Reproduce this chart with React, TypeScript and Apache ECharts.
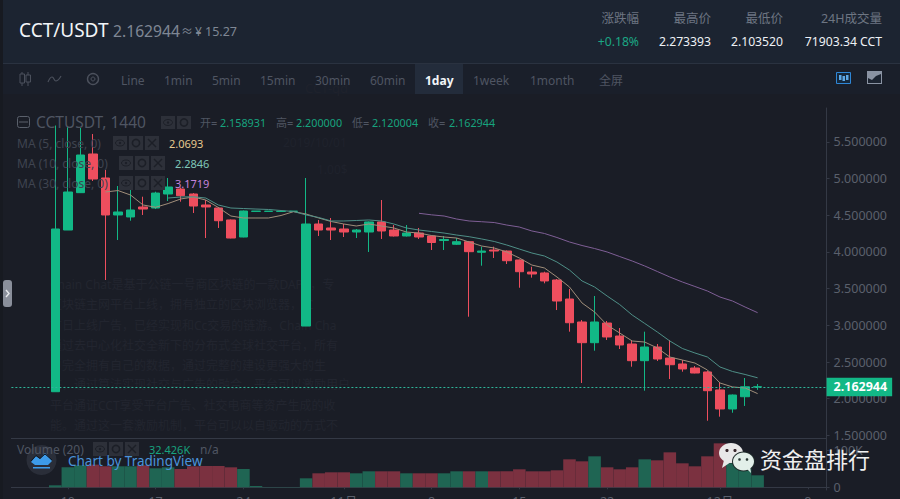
import React, { useEffect, useRef } from "react";
import * as echarts from "echarts";

// [open, close, low, high]
const candles: number[][] = [
  [2.095, 4.312, 2.095, 5.722], [4.298, 4.816, 4.298, 5.715], [4.807, 5.32, 4.802, 5.688], [5.334, 4.993, 4.966, 5.606],
  [5.007, 4.503, 3.617, 5.116], [4.503, 4.544, 4.162, 4.898], [4.476, 4.571, 4.425, 4.898], [4.612, 4.584, 4.503, 4.752],
  [4.598, 4.802, 4.584, 4.82], [4.789, 4.884, 4.693, 5.007], [4.857, 4.766, 4.684, 4.877], [4.789, 4.625, 4.53, 4.802],
  [4.639, 4.612, 4.189, 4.707], [4.598, 4.425, 4.326, 4.612], [4.435, 4.189, 4.185, 4.441], [4.203, 4.557, 4.199, 4.564],
  [4.552, 4.556, 4.552, 4.556], [4.552, 4.555, 4.552, 4.555], [4.551, 4.554, 4.551, 4.554], [4.552, 4.555, 4.552, 4.555],
  [2.99, 4.38, 2.99, 5.007], [4.38, 4.298, 4.217, 4.435], [4.326, 4.298, 4.162, 4.462], [4.312, 4.271, 4.203, 4.38],
  [4.271, 4.298, 4.189, 4.312], [4.271, 4.408, 3.999, 4.414], [4.408, 4.285, 4.176, 4.707], [4.298, 4.217, 4.21, 4.366],
  [4.217, 4.257, 4.21, 4.366], [4.257, 4.203, 4.176, 4.326], [4.217, 4.128, 4.026, 4.223], [4.155, 4.169, 4.026, 4.217],
  [4.104, 4.139, 4.094, 4.189], [4.139, 4.003, 3.117, 4.149], [3.995, 4.012, 3.812, 4.071], [4.026, 4.012, 3.917, 4.071],
  [4.012, 3.88, 3.835, 4.019], [3.89, 3.73, 3.512, 3.896], [3.726, 3.699, 3.649, 3.798], [3.713, 3.604, 3.572, 3.73],
  [3.617, 3.331, 3.208, 3.631], [3.358, 3.035, 2.913, 3.495], [3.045, 2.763, 2.214, 3.072], [2.763, 3.045, 2.654, 3.399],
  [3.031, 2.841, 2.8, 3.059], [2.854, 2.732, 2.677, 2.963], [2.745, 2.518, 2.436, 2.8], [2.518, 2.704, 2.109, 2.913],
  [2.704, 2.541, 2.514, 2.745], [2.554, 2.463, 2.268, 2.8], [2.473, 2.405, 2.368, 2.527], [2.418, 2.35, 2.346, 2.445],
  [2.364, 2.109, 1.7, 2.377], [2.119, 1.86, 1.755, 2.228], [1.86, 2.05, 1.809, 2.057], [2.027, 2.163, 1.901, 2.282],
  [2.158931, 2.162944, 2.120004, 2.2],
];

const ma5 = [4.816, 4.836, 4.775, 4.639, 4.608, 4.659, 4.721, 4.748, 4.707, 4.605, 4.489, 4.462, 4.462, 4.462, 4.496, 4.548, 4.516, 4.462, 4.414, 4.38, 4.353, 4.38, 4.353, 4.326, 4.271, 4.257, 4.223, 4.203, 4.189, 4.135, 4.08, 4.053, 3.999, 3.917, 3.821, 3.781, 3.658, 3.522, 3.304, 3.181, 3.004, 2.895, 2.786, 2.772, 2.691, 2.568, 2.527, 2.486, 2.391, 2.214, 2.16, 2.146, 2.0693];
const ma10 = [4.734, 4.748, 4.752, 4.734, 4.639, 4.598, 4.591, 4.584, 4.578, 4.564, 4.55, 4.503, 4.469, 4.421, 4.421, 4.428, 4.435, 4.421, 4.38, 4.326, 4.298, 4.278, 4.257, 4.23, 4.207, 4.176, 4.142, 4.094, 4.039, 3.985, 3.944, 3.862, 3.753, 3.604, 3.522, 3.399, 3.283, 3.14, 3.025, 2.909, 2.786, 2.684, 2.623, 2.568, 2.432, 2.371, 2.33, 2.2846];
const ma30 = [4.526, 4.505, 4.489, 4.448, 4.421, 4.411, 4.4, 4.366, 4.339, 4.285, 4.251, 4.196, 4.135, 4.087, 4.046, 3.999, 3.937, 3.876, 3.808, 3.733, 3.658, 3.59, 3.529, 3.467, 3.385, 3.331, 3.249, 3.1719];

// thousands
const volumes = [5.4, 54, 59.4, 61.3, 56.7, 56.7, 56.7, 59.4, 51.3, 54, 49.4, 56.7, 57.5, 57.5, 54, 49.4, 3.5, 0.8, 0.8, 0.8, 24.3, 37.8, 40.5, 40.5, 37.8, 43.2, 43.2, 43.2, 37.8, 37.8, 37.8, 37.8, 43.2, 43.2, 43.2, 43.2, 43.2, 48.6, 43.2, 43.2, 45.9, 75.6, 70.2, 83.7, 54, 48.6, 54, 75.6, 72.9, 94.5, 64.8, 56.7, 83.7, 118.8, 64.8, 64.8, 32.426];

const tickIndex = [1, 8, 15, 23, 30, 37, 44, 53, 60];
const tickText = ["10", "17", "24", "11月", "8", "15", "22", "12月", "8"];
const priceTicks = [1.5, 2, 2.5, 3, 3.5, 4, 4.5, 5, 5.5];
const volumeTicks = [0, 100];
const lastPrice = 2.162944;

const timeframes: [string, number][] = [["Line", 121], ["1min", 164], ["5min", 212], ["15min", 260], ["30min", 315], ["60min", 370], ["1week", 473], ["1month", 530], ["全屏", 599]];
const stats: [string, string, number, string][] = [
  ["涨跌幅", "+0.18%", 639, "#1ba784"],
  ["最高价", "2.273393", 711, "#eef1f5"],
  ["最低价", "2.103520", 783, "#eef1f5"],
  ["24H成交量", "71903.34 CCT", 882, "#eef1f5"],
];
const watermark = [
  "Chain Chat是基于公链一号商区块链的一款DAPP，专",
  "区块链主网平台上线，拥有独立的区块浏览器，IC",
  "首日上线广告，已经实现和Cc交易的链游。Chain Cha",
  "通过去中心化社交全新下的分布式全球社交平台，所有",
  "户完全拥有自己的数据，通过完整的建设更强大的生",
  "态，通过算法实现社交与广告的融合，平台可以激励用户",
  "平台通证CCT享受平台广告、社交电商等资产生成的收",
  "能。通过这一套激励机制，平台可以以自驱动的方式不",
];
const watermarkY = [284, 304, 325, 345, 365, 384, 405, 425];

const FONT = '"Noto Sans","Noto Sans CJK SC",sans-serif';
const UP = "#12b886";
const DOWN = "#ee4e5e";
const LEAD = 3;
const TRAIL = 5;
const total = LEAD + candles.length + TRAIL;

const categories = Array.from({ length: total }, (_, i) => String(i));
const labelOf = (i: number) => {
  const k = tickIndex.indexOf(i - LEAD);
  return k >= 0 ? tickText[k] : "";
};
const padBoth = <T,>(arr: T[]): (T | string)[] => {
  const front = total - TRAIL - arr.length;
  return [...Array(front).fill("-"), ...arr, ...Array(TRAIL).fill("-")];
};

const txt = (text: string, x: number, y: number, fill: string, fontSize = 12, extra: any = {}) => ({
  type: "text", x, y, z: 100, silent: true,
  style: { text, fill, fontSize, fontFamily: FONT, textVerticalAlign: "middle", verticalAlign: "middle", align: "left", ...(extra.style || {}) },
  ...(extra.el || {}),
});
const rect = (x: number, y: number, width: number, height: number, fill: string, z = 100, r = 0) => ({
  type: "rect", z, silent: true, shape: { x, y, width, height, r }, style: { fill },
});
const seg = (x1: number, y1: number, x2: number, y2: number, stroke: string, lineWidth = 1) => ({
  type: "line", z: 101, silent: true, shape: { x1, y1, x2, y2 }, style: { stroke, lineWidth },
});

function controlBoxes(x: number, y: number, n: number, h = 14) {
  const out: any[] = [];
  for (let i = 0; i < n; i++) {
    const bx = x + i * 16;
    out.push(rect(bx, y, 14, h, "#2d3039", 90));
    const cx = bx + 7, cy = y + h / 2;
    if (i === 0) {
      out.push({ type: "ellipse", z: 101, silent: true, shape: { cx, cy, rx: 4.5, ry: 3 }, style: { fill: "none", stroke: "#1c1f27", lineWidth: 1 } });
      out.push({ type: "circle", z: 101, silent: true, shape: { cx, cy, r: 1.2 }, style: { fill: "#1c1f27" } });
    } else if (i === 1) {
      out.push({ type: "circle", z: 101, silent: true, shape: { cx, cy, r: 3.6 }, style: { fill: "none", stroke: "#1c1f27", lineWidth: 1.6 } });
    } else {
      out.push(seg(cx - 4, cy - 4, cx + 4, cy + 4, "#1c1f27", 1.4));
      out.push(seg(cx - 4, cy + 4, cx + 4, cy - 4, "#1c1f27", 1.4));
    }
  }
  return out;
}

function buildGraphics(): any[] {
  const g: any[] = [];
  // background bands
  g.push(rect(0, 0, 900, 63, "#1c2431", 0));
  g.push(rect(0, 63, 900, 1, "#2a3240", 0));
  g.push(rect(0, 64, 900, 30, "#1a1f2a", 0));
  g.push(rect(0, 0, 3, 499, "#171a21", 0));
  g.push(rect(415, 64, 48, 30, "#232c3b", 0));
  // watermark
  watermark.forEach((line, i) => {
    g.push({ type: "text", x: 50, y: watermarkY[i], z: 0, silent: true, style: { text: line, fill: "#22252f", fontSize: 12, fontFamily: FONT, verticalAlign: "middle" } });
  });
  const faint = "#1f222c";
  g.push({ type: "text", x: 305, y: 88, z: 0, silent: true, style: { text: "CCT-qd", fill: faint, fontSize: 13, fontFamily: FONT, verticalAlign: "middle" } });
  g.push({ type: "text", x: 283, y: 142, z: 0, silent: true, style: { text: "2019/10/01", fill: faint, fontSize: 12, fontFamily: FONT, verticalAlign: "middle" } });
  g.push({ type: "text", x: 317, y: 169, z: 0, silent: true, style: { text: "1.00$", fill: faint, fontSize: 12, fontFamily: FONT, verticalAlign: "middle" } });

  // header
  g.push(txt("CCT/USDT", 19, 30, "#f2f5f8", 19));
  g.push(txt("2.162944", 113, 31, "#7f8794", 15.7));
  g.push(txt("≈", 181, 31, "#7f8794", 12));
  g.push(txt("¥", 195, 31, "#7f8794", 12));
  g.push(txt("15.27", 205, 31, "#7f8794", 12.5));
  stats.forEach(([label, value, x, color]) => {
    g.push(txt(label, x, 18.5, "#6d7582", 12.5, { style: { align: "right" } }));
    g.push(txt(value, x, 41, color, 12.2, { style: { align: "right" } }));
  });

  // toolbar
  timeframes.forEach(([t, x]) => g.push(txt(t, x, 80, "#4f5562", 12)));
  g.push(txt("1day", 425, 80, "#f2f5f8", 12, { style: { fontWeight: "bold" } }));
  // toolbar left icons
  g.push(seg(22, 72, 22, 86, "#4b505c"));
  g.push({ type: "rect", z: 101, silent: true, shape: { x: 20, y: 74, width: 4.5, height: 9 }, style: { fill: "#1a1f2a", stroke: "#4b505c" } });
  g.push(seg(28, 72, 28, 86, "#4b505c"));
  g.push({ type: "rect", z: 101, silent: true, shape: { x: 26, y: 75, width: 4.5, height: 7 }, style: { fill: "#1a1f2a", stroke: "#4b505c" } });
  g.push({ type: "polyline", z: 101, silent: true, shape: { points: [[48, 82], [52, 77], [56, 81], [61, 76]], smooth: 0.5 }, style: { fill: "none", stroke: "#4b505c", lineWidth: 1.2 } });
  g.push({ type: "circle", z: 101, silent: true, shape: { cx: 93, cy: 79, r: 5.5 }, style: { fill: "none", stroke: "#4b505c", lineWidth: 1.4 } });
  g.push({ type: "circle", z: 101, silent: true, shape: { cx: 93, cy: 79, r: 2 }, style: { fill: "none", stroke: "#4b505c" } });
  // toolbar right icons
  g.push({ type: "rect", z: 101, silent: true, shape: { x: 836.5, y: 72.5, width: 14, height: 11 }, style: { fill: "#15283c", stroke: "#2e86d6" } });
  [840, 843.5, 847].forEach((x, i) => g.push(rect(x - 1, 75 + (i % 2), 2.5, 5, "#5ea8e6", 102)));
  g.push(rect(867, 71, 15, 13, "#8a93a3", 101));
  g.push({ type: "polygon", z: 102, silent: true, shape: { points: [[868, 83], [868, 78], [872, 80], [876, 76], [881, 74], [881, 83]] }, style: { fill: "#1c2431" } });

  // study legend
  g.push({ type: "rect", z: 101, silent: true, shape: { x: 17.5, y: 116.5, width: 12, height: 11, r: 2 }, style: { fill: "none", stroke: "#5a606b" } });
  g.push(seg(19, 122, 28, 122, "#5a606b"));
  g.push(txt("CCTUSDT, 1440", 36, 122, "#4f5562", 15.5));
  g.push(...controlBoxes(161, 116, 2, 13));
  const ohlc: [string, string, number, number][] = [["开=", "2.158931", 200, 220], ["高=", "2.200000", 276, 296], ["低=", "2.120004", 352, 372], ["收=", "2.162944", 428, 449]];
  ohlc.forEach(([a, b, x1, x2]) => {
    g.push(txt(a, x1, 122.5, "#4f5562", 11));
    g.push(txt(b, x2, 122.5, "#17a37e", 10.8));
  });
  const rows: [string, string, string, number, number, number][] = [
    ["MA (5, close, 0)", "2.0693", "#e6c98f", 143, 113, 169],
    ["MA (10, close, 0)", "2.2846", "#7fc6b8", 163, 119, 175],
    ["MA (30, close, 0)", "3.1719", "#c483dc", 183, 119, 175],
  ];
  rows.forEach(([t, v, c, y, bx, vx]) => {
    g.push(txt(t, 17, y, "#3f4450", 12));
    g.push(...controlBoxes(bx, y - 7, 3));
    g.push(txt(v, vx, y, c, 11));
  });

  // volume legend
  g.push(txt("Volume (20)", 17, 449, "#4f5562", 12));
  g.push(...controlBoxes(93, 442, 3));
  g.push(txt("32.426K", 149, 449, "#17a37e", 11));
  g.push(txt("n/a", 200, 449, "#4f5562", 12));

  // TradingView badge
  g.push({ type: "circle", z: 95, silent: true, shape: { cx: 41.5, cy: 460, r: 15 }, style: { fill: "#2c313c", opacity: 0.9 } });
  g.push({ type: "polygon", z: 101, silent: true, shape: { points: [[31, 462], [36, 456], [40, 459], [45, 453], [52, 461], [48, 465], [35, 465]] }, style: { fill: "#3d9be9" } });
  g.push({ type: "polyline", z: 102, silent: true, shape: { points: [[31, 461], [36, 455.5], [40, 458.5], [45, 454], [52, 460]] }, style: { fill: "none", stroke: "#0f1620", lineWidth: 1 } });
  g.push(rect(33, 467, 17, 1.5, "#3d9be9", 101));
  g.push(txt("Chart by TradingView", 68, 460.5, "#4a93da", 13.5));

  // side handle
  g.push(rect(3, 280, 9, 27, "#8a8f9b", 100, 3));
  g.push({ type: "polyline", z: 101, silent: true, shape: { points: [[6, 290], [9, 293.5], [6, 297]] }, style: { fill: "none", stroke: "#e8eaee", lineWidth: 1.4 } });

  // WeChat mark
  g.push({ type: "polygon", z: 110, silent: true, shape: { points: [[724, 460], [722, 468], [731, 462]] }, style: { fill: "#e8e8e8" } });
  g.push({ type: "ellipse", z: 110, silent: true, shape: { cx: 731, cy: 453, rx: 12, ry: 10 }, style: { fill: "#e8e8e8" } });
  g.push({ type: "circle", z: 111, silent: true, shape: { cx: 727, cy: 450.5, r: 1.6 }, style: { fill: "#3a2a2e" } });
  g.push({ type: "circle", z: 111, silent: true, shape: { cx: 735, cy: 450.5, r: 1.6 }, style: { fill: "#3a2a2e" } });
  g.push({ type: "ellipse", z: 112, silent: true, shape: { cx: 743.5, cy: 461.5, rx: 11.5, ry: 10 }, style: { fill: "#1f2b2a" } });
  g.push({ type: "ellipse", z: 113, silent: true, shape: { cx: 743.5, cy: 461.5, rx: 10.5, ry: 9 }, style: { fill: "#e2efe9" } });
  g.push({ type: "polygon", z: 113, silent: true, shape: { points: [[746, 468], [751, 473], [750, 466]] }, style: { fill: "#e2efe9" } });
  g.push({ type: "circle", z: 114, silent: true, shape: { cx: 739.5, cy: 459.5, r: 1.3 }, style: { fill: "#2b3a36" } });
  g.push({ type: "circle", z: 114, silent: true, shape: { cx: 747, cy: 459.5, r: 1.3 }, style: { fill: "#2b3a36" } });
  g.push(txt("资金盘排行", 760, 458.5, "#f0f0f0", 22));
  return g;
}

export default function App() {
  const ref = useRef<HTMLDivElement>(null);
  useEffect(() => {
    document.body.style.margin = "0";
    document.body.style.overflow = "hidden";
    const chart = echarts.init(ref.current!, undefined, { renderer: "svg" });
    const axisLine = { show: true, lineStyle: { color: "#343945", width: 1 } };
    const labelStyle = { color: "#5a606c", fontSize: 12.5, fontFamily: FONT };
    chart.setOption({
      animation: false,
      backgroundColor: "#1a1d26",
      tooltip: { show: false },
      graphic: { elements: buildGraphics() },
      grid: [
        { left: 11.4, width: 815.2, top: 108, height: 330.3, outerBoundsMode: "none" },
        { left: 11.4, width: 815.2, top: 438.3, height: 51.7, outerBoundsMode: "none" },
      ],
      xAxis: [
        { type: "category", data: categories, gridIndex: 0, boundaryGap: true, axisLine, axisTick: { show: false }, axisLabel: { show: false }, splitLine: { show: false } },
        {
          type: "category", data: categories, gridIndex: 1, boundaryGap: true, axisLine,
          axisTick: { show: true, alignWithLabel: true, length: 2, interval: (i: number) => labelOf(i) !== "", lineStyle: { color: "#343945" } },
          axisLabel: { interval: (i: number) => labelOf(i) !== "", formatter: (v: string) => labelOf(Number(v)), margin: 5, color: "#5a606c", fontSize: 12.5, fontFamily: FONT, hideOverlap: false },
          splitLine: { show: false },
        },
      ],
      yAxis: [
        {
          type: "value", gridIndex: 0, position: "right", min: 1.4605, max: 5.9605, scale: true,
          axisLine, splitLine: { show: false },
          axisTick: { show: true, length: 3, customValues: priceTicks, lineStyle: { color: "#343945" } },
          axisLabel: { ...labelStyle, margin: 7, customValues: priceTicks, formatter: (v: number) => v.toFixed(6) },
        },
        {
          type: "value", gridIndex: 1, position: "right", min: -7.3, max: 132.4,
          axisLine, splitLine: { show: false },
          axisTick: { show: true, length: 3, customValues: volumeTicks, lineStyle: { color: "#343945" } },
          axisLabel: { ...labelStyle, margin: 7, customValues: volumeTicks, formatter: (v: number) => (v === 0 ? "0" : v + "K") },
        },
      ],
      series: [
        {
          type: "candlestick", xAxisIndex: 0, yAxisIndex: 0, barWidth: 9, clip: false,
          data: padBoth(candles),
          itemStyle: { color: UP, color0: DOWN, borderColor: UP, borderColor0: DOWN, borderWidth: 1 },
          markLine: {
            silent: true, symbol: "none", animation: false,
            lineStyle: { type: [2, 2], color: "#2fb59a", width: 1 },
            data: [{ yAxis: lastPrice }],
            label: {
              show: true, position: "end", distance: 0, formatter: () => lastPrice.toFixed(6),
              color: "#ffffff", backgroundColor: UP, fontWeight: "bold", fontSize: 12.5, fontFamily: FONT, padding: [3, 5, 3, 7],
            },
          },
        },
        { type: "line", name: "MA5", xAxisIndex: 0, yAxisIndex: 0, data: padBoth(ma5), showSymbol: false, lineStyle: { color: "#a08e7a", width: 1 }, z: 3 },
        { type: "line", name: "MA10", xAxisIndex: 0, yAxisIndex: 0, data: padBoth(ma10), showSymbol: false, lineStyle: { color: "#4f8f87", width: 1 }, z: 3 },
        { type: "line", name: "MA30", xAxisIndex: 0, yAxisIndex: 0, data: padBoth(ma30), showSymbol: false, lineStyle: { color: "#7f5f96", width: 1 }, z: 3 },
        {
          type: "bar", xAxisIndex: 1, yAxisIndex: 1, barCategoryGap: "0%",
          data: padBoth(volumes.map((v, i) => {
            const up = candles[i][1] >= candles[i][0];
            return { value: v, itemStyle: { color: up ? "#1f6553" : "#7b3140" } };
          })),
        },
      ],
    });
    return () => chart.dispose();
  }, []);
  return <div ref={ref} style={{ position: "fixed", left: 0, top: 0, width: 900, height: 499 }} />;
}
